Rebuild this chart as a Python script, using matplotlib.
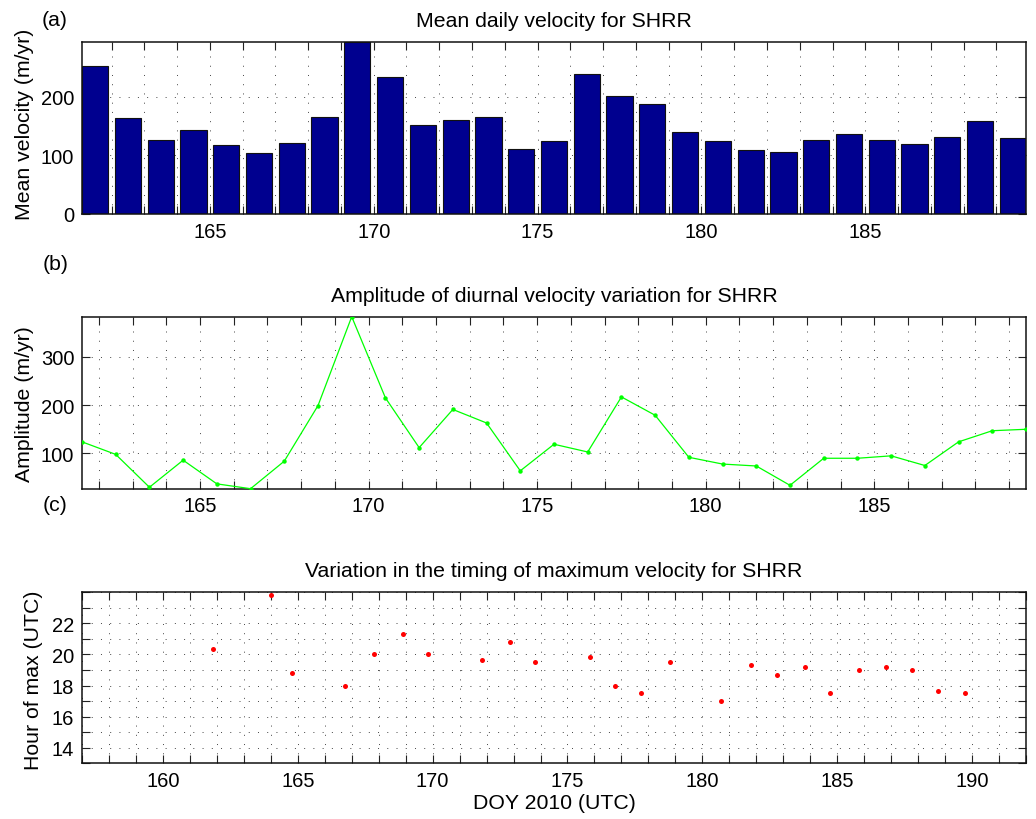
import matplotlib
matplotlib.use("Agg")
import matplotlib.pyplot as plt
from matplotlib.ticker import MultipleLocator, NullFormatter, FixedLocator

plt.rcParams['font.family'] = ['Liberation Sans', 'DejaVu Sans']

# ---------------- data ----------------
# (a) mean daily velocity, bars centred on half days
bar_days = [161.5, 162.5, 163.5, 164.5, 165.5, 166.5, 167.5, 168.5, 169.5, 170.5,
            171.5, 172.5, 173.5, 174.5, 175.5, 176.5, 177.5, 178.5, 179.5, 180.5,
            181.5, 182.5, 183.5, 184.5, 185.5, 186.5, 187.5, 188.5, 189.5]
mean_vel = [253, 163, 126, 143, 118, 104, 122, 166, 293, 234,
            152, 161, 166, 111, 124, 239, 202, 188, 140, 125,
            110, 105, 126, 136, 127, 119, 131, 158, 129]

# (b) amplitude of diurnal variation
amp_days = bar_days
amplitude = [124, 98, 30, 86, 37, 27, 84, 199, 383, 215,
             112, 191, 163, 64, 119, 103, 217, 179, 92, 78,
             74, 34, 90, 90, 95, 75, 124, 147, 150]

# (c) timing of maximum velocity
max_days = [161.84, 163.99, 164.79, 166.76, 167.84, 168.89, 169.84, 171.82, 172.87,
            173.81, 175.83, 176.75, 177.73, 178.81, 180.71, 181.81, 182.78, 183.80,
            184.73, 185.79, 186.80, 187.79, 188.74, 189.73]
max_hour = [20.33, 23.85, 18.83, 18.0, 20.0, 21.33, 20.0, 19.67, 20.83,
            19.5, 19.83, 18.0, 17.5, 19.5, 17.0, 19.33, 18.67, 19.17,
            17.5, 19.0, 19.17, 19.0, 17.67, 17.5]
hour_ticks = [14, 16, 18, 20, 22]

titles = ["Mean daily velocity for SHRR",
          "Amplitude of diurnal velocity variation for SHRR",
          "Variation in the timing of maximum velocity for SHRR"]
ylabels = ["Mean velocity (m/yr)", "Amplitude (m/yr)", "Hour of max (UTC)"]
xlabel_c = "DOY 2010 (UTC)"
panel_tags = ["(a)", "(b)", "(c)"]

# ---------------- figure ----------------
W, H = 1036, 820
fig = plt.figure(figsize=(W / 100, H / 100), dpi=100)

def rect(left, top, right, bottom):
    return [left / W, 1 - bottom / H, (right - left) / W, (bottom - top) / H]

axA = fig.add_axes(rect(82, 43.3, 1026, 215))
axB = fig.add_axes(rect(82, 317.7, 1026, 489.7))
axC = fig.add_axes(rect(82, 593.3, 1026, 764.3))

GRID = dict(color='#444444', linestyle=(0, (1, 8.5)), linewidth=0.7)
FS_TICK = 14.5
FS_LAB = 15.3

def style(ax, ymajor_locator, yminor=None, yminor_ticks=False):
    ax.xaxis.set_major_locator(MultipleLocator(5))
    ax.xaxis.set_minor_locator(MultipleLocator(1))
    ax.xaxis.set_minor_formatter(NullFormatter())
    ax.yaxis.set_major_locator(ymajor_locator)
    if yminor is not None:
        ax.yaxis.set_minor_locator(MultipleLocator(yminor))
        ax.yaxis.set_minor_formatter(NullFormatter())
    ax.tick_params(axis='both', which='both', direction='in', top=True, right=True,
                   length=6, width=0.8, color='#222222', labelsize=FS_TICK, pad=5.5)
    if not yminor_ticks:
        ax.tick_params(axis='y', which='minor', length=0)
    ax.grid(True, which='both', axis='x', **GRID)
    ax.grid(True, which='major', axis='y', **GRID)
    if yminor is not None:
        ax.grid(True, which='minor', axis='y', **GRID)
    for s in ax.spines.values():
        s.set_linewidth(1.1)
        s.set_color('#111111')
    ax.set_axisbelow(True)

# (a)
axA.bar(bar_days, mean_vel, width=0.8, color='#00008F', edgecolor='#111111',
        linewidth=0.8, zorder=2)
axA.set_xlim(bar_days[0] - 0.4, bar_days[-1] + 0.4)
axA.set_ylim(0, max(mean_vel))
style(axA, MultipleLocator(100))

# (b)
axB.plot(amp_days, amplitude, '-', color='#00FF00', linewidth=0.9,
         marker='o', markersize=3.2, markeredgewidth=0, zorder=3)
axB.set_xlim(amp_days[0], amp_days[-1])
axB.set_ylim(min(amplitude), max(amplitude))
style(axB, MultipleLocator(100))

# (c)
axC.plot(max_days, max_hour, 'o', color='#FF0000', markersize=3.6,
         markeredgewidth=0, linestyle='none', zorder=3)
axC.set_xlim(157, 192)
axC.set_ylim(13, 24)
style(axC, FixedLocator(hour_ticks), yminor=1, yminor_ticks=True)

for ax, t, yl in zip([axA, axB, axC], titles, ylabels):
    ax.set_title(t, fontsize=FS_LAB, pad=11.5)
    ax.set_ylabel(yl, fontsize=FS_LAB)

axA.yaxis.set_label_coords((34 - 82) / 944, 0.53)
axB.yaxis.set_label_coords((34 - 82) / 944, 0.5)
axC.yaxis.set_label_coords((43 - 82) / 944, 0.49)

axC.set_xlabel(xlabel_c, fontsize=FS_LAB, labelpad=2)

for tag, (x, y) in zip(panel_tags, [(42, 20.5), (43, 264), (43, 505.5)]):
    fig.text(x / W, 1 - y / H, tag, fontsize=FS_LAB, ha='left', va='center')

fig.savefig("out.png", dpi=100)
